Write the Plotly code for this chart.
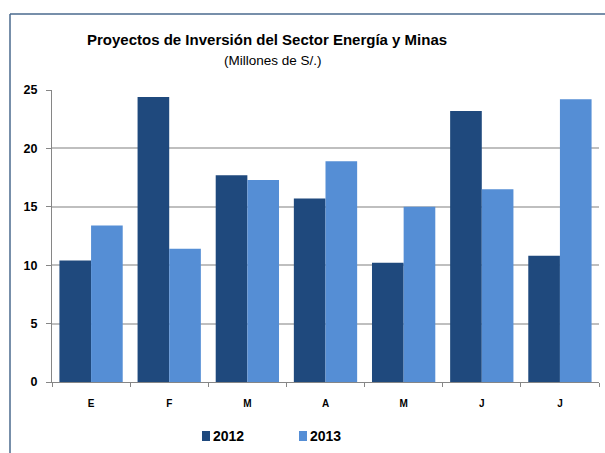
import plotly.graph_objects as go

# Monthly investment in energy & mining projects (millions of S/.)
months = ["E", "F", "M", "A", "M ", "J", "J "]
values_2012 = [10.4, 24.4, 17.7, 15.7, 10.2, 23.2, 10.8]
values_2013 = [13.4, 11.4, 17.3, 18.9, 15.0, 16.5, 24.2]
series_names = ["2012", "2013"]
y_ticks = [0, 5, 10, 15, 20, 25]

dark_blue = "#1F497D"
light_blue = "#558ED5"
font_family = "Liberation Sans, Arial, sans-serif"

W, H = 605, 453
ml, mr, mt, mb = 52, 6, 90, 71
pw, ph = W - ml - mr, H - mt - mb


def px_x(x):
    return (x - ml) / pw


def px_y(y):
    return (H - mb - y) / ph


colors = [dark_blue, light_blue]
fig = go.Figure()
for name, vals, col in zip(series_names, [values_2012, values_2013], colors):
    fig.add_trace(go.Bar(x=months, y=vals, name=name, showlegend=False,
                         marker=dict(color=col, line=dict(width=0))))

fig.update_layout(
    width=W, height=H,
    margin=dict(l=ml, r=mr, t=mt, b=mb, pad=0),
    paper_bgcolor="white", plot_bgcolor="white",
    barmode="group", bargap=0.19, bargroupgap=0,
    font=dict(family=font_family, color="black"),
    xaxis=dict(
        type="category", showgrid=False, zeroline=False,
        showline=True, linecolor="#868686", linewidth=1,
        ticks="outside", tickson="boundaries", ticklen=4, tickcolor="#868686",
        tickvals=months, ticktext=[f"<b>{m.strip()}</b>" for m in months],
        tickfont=dict(size=10, family=font_family, color="black"),
        ticklabelstandoff=12,
    ),
    yaxis=dict(
        range=[0, 25], tickvals=y_ticks, ticktext=[f"<b>{v}</b>" for v in y_ticks],
        showgrid=True, gridcolor="#BFBFBF", gridwidth=1.5, zeroline=False,
        showline=True, linecolor="#868686", linewidth=1,
        ticks="outside", ticklen=5, tickcolor="#868686",
        tickfont=dict(size=12.5, family=font_family, color="black"),
        ticklabelstandoff=6,
    ),
)

# title and subtitle
fig.add_annotation(text="<b>Proyectos de Inversión del Sector Energía y Minas</b>",
                   xref="paper", yref="paper", x=px_x(267), y=px_y(40),
                   xanchor="center", yanchor="middle", showarrow=False,
                   font=dict(size=15, family=font_family, color="black"))
fig.add_annotation(text="(Millones de S/.)",
                   xref="paper", yref="paper", x=px_x(273), y=px_y(61),
                   xanchor="center", yanchor="middle", showarrow=False,
                   font=dict(size=13.5, family=font_family, color="black"))

# legend: small colour swatches with bold year labels
legend_x = [202, 299]
for name, col, lx in zip(series_names, colors, legend_x):
    fig.add_shape(type="rect", xref="paper", yref="paper",
                  x0=px_x(lx), x1=px_x(lx + 8), y0=px_y(441), y1=px_y(431),
                  fillcolor=col, line=dict(width=0))
    fig.add_annotation(text=f"<b>{name}</b>", xref="paper", yref="paper",
                       x=px_x(lx + 9), y=px_y(436), xanchor="left", yanchor="middle",
                       showarrow=False,
                       font=dict(size=14, family=font_family, color="black"))

# chart frame (top and left edges)
frame_color = "#4A6A8E"
fig.add_shape(type="line", xref="paper", yref="paper",
              x0=px_x(10), x1=px_x(W), y0=px_y(14), y1=px_y(14),
              line=dict(color=frame_color, width=1.5))
fig.add_shape(type="line", xref="paper", yref="paper",
              x0=px_x(10), x1=px_x(10), y0=px_y(14), y1=px_y(H),
              line=dict(color=frame_color, width=1.5))

fig.write_html("out.html")
